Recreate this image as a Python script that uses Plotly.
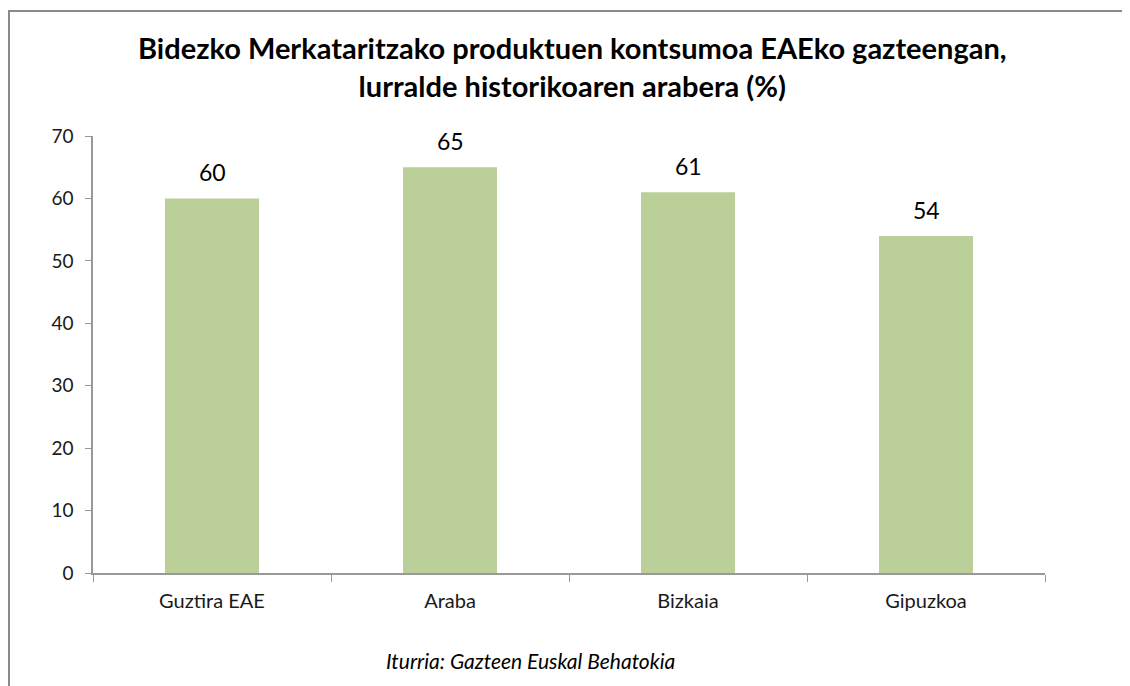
import plotly.graph_objects as go

categories = ["Guztira EAE", "Araba", "Bizkaia", "Gipuzkoa"]
values = [60, 65, 61, 54]
y_ticks = [0, 10, 20, 30, 40, 50, 60, 70]

title_text = ("<b>Bidezko Merkataritzako produktuen kontsumoa EAEko gazteengan,<br>"
              "lurralde historikoaren arabera (%)</b>")
source_text = "<i>Iturria: Gazteen Euskal Behatokia</i>"

OFF = 8  # page body margin
W, H = 1130, 686
PX0, PX1 = 93, 1045   # plot area on page
PY0, PY1 = 136, 573
L = PX0 - OFF
T = PY0 - OFF
pw, ph = PX1 - PX0, PY1 - PY0
R = W - L - pw
B = H - T - ph

def px_x(p):
    return (p - PX0) / pw

def px_y(p):
    return (PY1 - p) / ph

FONT = "Lato"

fig = go.Figure()
fig.add_trace(go.Bar(
    x=categories, y=values, width=0.395,
    marker=dict(color="#bbcf98", line=dict(width=0)),
    hoverinfo="skip",
))

for c, v in zip(categories, values):
    fig.add_annotation(x=c, y=v, text=str(v), showarrow=False,
                       yanchor="bottom", yshift=10,
                       font=dict(family=FONT, size=23, color="#000000"))

fig.add_annotation(x=px_x(530), y=px_y(660), xref="paper", yref="paper",
                   text=source_text, showarrow=False, xanchor="center", yanchor="middle",
                   font=dict(family=FONT, size=21, color="#000000"))

fig.add_annotation(x=px_x(572), y=px_y(67), xref="paper", yref="paper",
                   text=title_text, showarrow=False, xanchor="center", yanchor="middle",
                   font=dict(family=FONT, size=29, color="#000000"))

border_col = "#8a8a8a"
fig.add_shape(type="line", xref="paper", yref="paper",
              x0=px_x(OFF), x1=px_x(1145), y0=px_y(11), y1=px_y(11),
              line=dict(color=border_col, width=2))
fig.add_shape(type="line", xref="paper", yref="paper",
              x0=px_x(OFF + 1), x1=px_x(OFF + 1), y0=px_y(10), y1=px_y(700),
              line=dict(color=border_col, width=2))

fig.update_layout(
    width=W, height=H,
    margin=dict(l=L, r=R, t=T, b=B),
    paper_bgcolor="white", plot_bgcolor="white",
    showlegend=False,
    font=dict(family=FONT, size=20, color="#000000"),
)
fig.update_xaxes(
    showline=True, linecolor="#999999", linewidth=1.5,
    ticks="outside", tickson="boundaries", ticklen=7, tickcolor="#999999",
    ticklabelstandoff=9,
    showgrid=False, tickfont=dict(family=FONT, size=20, color="#1a1a1a"),
)
fig.update_yaxes(
    range=[0, 70], tickvals=y_ticks,
    showline=True, linecolor="#999999", linewidth=1.5,
    ticks="outside", ticklen=6, tickcolor="#999999",
    ticklabelstandoff=8,
    showgrid=False, zeroline=False,
    tickfont=dict(family=FONT, size=19, color="#1a1a1a"),
)

fig.write_html("out.html")
